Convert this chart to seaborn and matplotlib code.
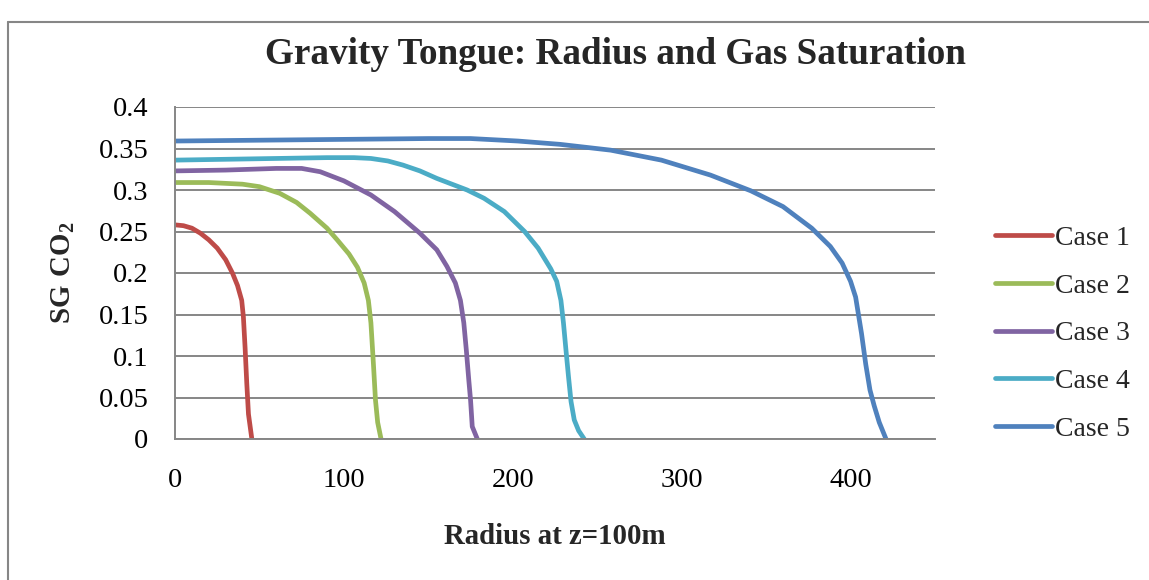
import matplotlib
matplotlib.use("Agg")
import matplotlib.pyplot as plt
import seaborn as sns
import pandas as pd
from matplotlib.lines import Line2D

# ---- data ----
case1_x = [0, 5, 10, 15, 20, 25, 30, 34, 37, 39.5, 40.5, 41.5, 42.5, 43.5, 45.5]
case1_y = [0.258, 0.257, 0.254, 0.248, 0.240, 0.230, 0.216, 0.200, 0.185, 0.167, 0.147, 0.11, 0.067, 0.03, 0.0]

case2_x = [0, 20, 40, 50, 62, 72, 80, 90, 96, 103, 108, 112, 114.5, 116, 117.5, 118.7, 120, 122]
case2_y = [0.309, 0.309, 0.307, 0.304, 0.296, 0.285, 0.272, 0.254, 0.240, 0.223, 0.207, 0.188, 0.167, 0.14, 0.09, 0.047, 0.02, 0.0]

case3_x = [0, 30, 60, 75, 86, 100, 116, 130, 145, 155, 161, 166, 169, 171, 172.5, 174, 175, 176, 179]
case3_y = [0.323, 0.324, 0.326, 0.326, 0.322, 0.311, 0.294, 0.274, 0.248, 0.228, 0.208, 0.188, 0.167, 0.14, 0.107, 0.07, 0.047, 0.015, 0.0]

case4_x = [0, 30, 60, 90, 106, 116, 126, 135, 145, 155, 164, 173, 183, 195, 207, 215, 222.5, 226, 228.5, 230, 231.5, 233, 234.5, 236.4, 239, 242.3]
case4_y = [0.336, 0.337, 0.338, 0.339, 0.339, 0.338, 0.335, 0.330, 0.323, 0.314, 0.307, 0.300, 0.290, 0.274, 0.250, 0.230, 0.205, 0.19, 0.167, 0.14, 0.107, 0.075, 0.045, 0.023, 0.01, 0.0]

case5_x = [0, 50, 100, 150, 175, 203, 228, 258, 288, 317, 341, 360, 377, 388, 395, 400, 403, 406.5, 409, 411.5, 414, 417, 421]
case5_y = [0.359, 0.360, 0.361, 0.362, 0.362, 0.359, 0.355, 0.348, 0.336, 0.318, 0.299, 0.280, 0.254, 0.232, 0.212, 0.19, 0.171, 0.127, 0.09, 0.059, 0.04, 0.02, 0.0]

case_names = ["Case 1", "Case 2", "Case 3", "Case 4", "Case 5"]
case_colors = ["#BE4B48", "#9BBB59", "#8064A2", "#4BACC6", "#4F81BD"]
x_ticks = [0, 100, 200, 300, 400]
y_ticks = [0, 0.05, 0.1, 0.15, 0.2, 0.25, 0.3, 0.35, 0.4]
y_tick_labels = ["0", "0.05", "0.1", "0.15", "0.2", "0.25", "0.3", "0.35", "0.4"]

xs = [case1_x, case2_x, case3_x, case4_x, case5_x]
ys = [case1_y, case2_y, case3_y, case4_y, case5_y]
rows = []
for name, xv, yv in zip(case_names, xs, ys):
    for i, (a, b) in enumerate(zip(xv, yv)):
        rows.append({"case": name, "radius": a, "sg": b, "order": i})
df = pd.DataFrame(rows)

# ---- style ----
sns.set_theme(style="white")
plt.rcParams["font.family"] = ["Liberation Serif", "DejaVu Serif"]
plt.rcParams["mathtext.fontset"] = "custom"
plt.rcParams["mathtext.rm"] = "Liberation Serif"
plt.rcParams["mathtext.bf"] = "Liberation Serif:bold"

fig = plt.figure(figsize=(11.49, 5.80), dpi=100)
ax = fig.add_axes([175 / 1149, 1 - 439 / 580, (935 - 175) / 1149, (439 - 107) / 580])

sns.lineplot(data=df, x="radius", y="sg", hue="case", palette=dict(zip(case_names, case_colors)),
             sort=False, estimator=None, units="case", linewidth=3.4, ax=ax, legend=False)
for ln in ax.get_lines():
    ln.set_solid_joinstyle("round")
    ln.set_solid_capstyle("round")

grid_c = "#868686"
ax.set_xlim(0, 450)
ax.set_ylim(0, 0.4)
ax.set_xticks(x_ticks)
ax.set_xticklabels([str(t) for t in x_ticks])
ax.set_yticks(y_ticks)
ax.set_yticklabels(y_tick_labels)
ax.yaxis.grid(True, color=grid_c, linewidth=1.4)
ax.xaxis.grid(False)
ax.set_axisbelow(True)
for s in ["top", "right"]:
    ax.spines[s].set_visible(False)
for s in ["left", "bottom"]:
    ax.spines[s].set_color(grid_c)
    ax.spines[s].set_linewidth(1.4)
ax.tick_params(axis="y", length=0, pad=19, labelsize=20.5, colors="black")
ax.tick_params(axis="x", length=0, pad=21, labelsize=20.5, colors="black")

ax.set_xlabel("Radius at z=100m", fontsize=20.8, fontweight="bold", va="center")
ax.xaxis.set_label_coords(0.5, (439 - 537) / 332)
ax.set_ylabel(r"$\mathbf{SG\ CO_2}$", fontsize=20.8, fontweight="bold", va="center")
ax.yaxis.set_label_coords((63 - 175) / 760, 0.5)

fig.text(615 / 1149, 1 - 55 / 580, "Gravity Tongue: Radius and Gas Saturation",
         fontsize=26.7, fontweight="bold", ha="center", va="center")

handles = [Line2D([0], [0], color=c, lw=3.4, solid_capstyle="round") for c in case_colors]
fig.legend(handles, case_names, loc="center left", bbox_to_anchor=(995 / 1149, 1 - 333.5 / 580),
           frameon=False, fontsize=20, handlelength=2.05, handletextpad=0.1,
           labelspacing=0.8, borderpad=0, borderaxespad=0)

# chart frame (Excel chart area border)
fig.add_artist(Line2D([8 / 1149, 1], [1 - 22 / 580, 1 - 22 / 580], transform=fig.transFigure,
                      color=grid_c, lw=1.5))
fig.add_artist(Line2D([8 / 1149, 8 / 1149], [0, 1 - 22 / 580], transform=fig.transFigure,
                      color=grid_c, lw=1.5))

fig.savefig("out.png", dpi=100)
